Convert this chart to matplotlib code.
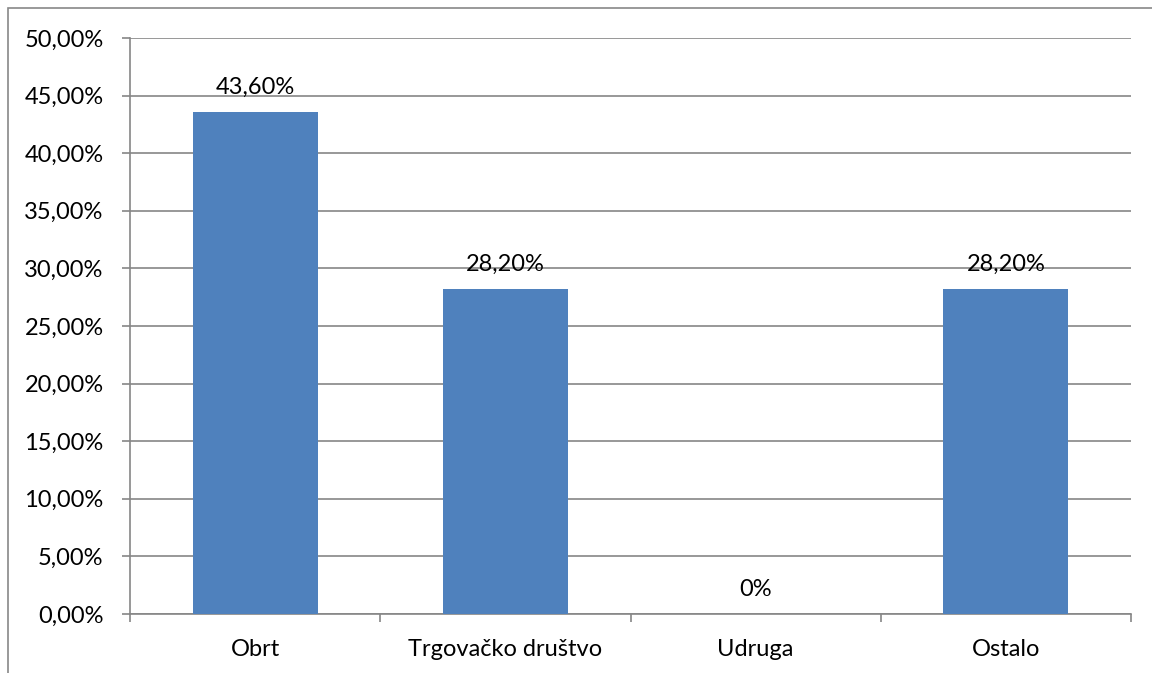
import matplotlib
matplotlib.use('Agg')
import matplotlib.pyplot as plt
from matplotlib.patches import Rectangle
from matplotlib.ticker import MultipleLocator, FuncFormatter

categories = ['Obrt', 'Trgovačko društvo', 'Udruga', 'Ostalo']
values     = [43.6, 28.2, 0.0, 28.2]
labels     = ['43,60%', '28,20%', '0%', '28,20%']

plt.rcParams['font.family'] = ['Lato', 'DejaVu Sans']
fs = 17

fig = plt.figure(figsize=(11.52, 6.73), dpi=100)
ax = fig.add_axes([130/1152, 59/673, 1001/1152, 576/673])

# outer chart border (left and top only visible)
fig.patches.append(Rectangle((8/1152, -0.1), 1.2, (673-8)/673 + 0.1, transform=fig.transFigure,
                             fill=False, edgecolor='#888888', linewidth=1.2))

x = range(len(categories))
ax.bar(x, values, width=0.5, color='#4f81bd', zorder=3)

for xi, v, lab in zip(x, values, labels):
    ax.annotate(lab, (xi, v), xytext=(0, 10), textcoords='offset points',
                ha='center', va='bottom', fontsize=fs, color='black')

ax.set_xlim(-0.5, 3.5)
ax.set_ylim(0, 50)
ax.yaxis.set_major_locator(MultipleLocator(5))
ax.yaxis.set_major_formatter(FuncFormatter(lambda v, p: f"{v:.2f}%".replace('.', ',')))
ax.grid(axis='y', color='#868686', linewidth=1.2, zorder=0)

ax.set_xticks([i - 0.5 for i in range(len(categories) + 1)], minor=False)
ax.set_xticklabels([])
ax.set_xticks(list(x), minor=True)
ax.set_xticklabels(categories, minor=True)
ax.tick_params(axis='x', which='minor', length=0, pad=18, labelsize=fs)
ax.tick_params(axis='x', which='major', length=6, color='#868686', width=1.2)
ax.tick_params(axis='y', length=6, color='#868686', width=1.2, labelsize=fs, pad=13)

for s in ['top', 'right']:
    ax.spines[s].set_visible(False)
for s in ['left', 'bottom']:
    ax.spines[s].set_color('#868686')
    ax.spines[s].set_linewidth(1.2)

fig.savefig('out.png', dpi=100)
